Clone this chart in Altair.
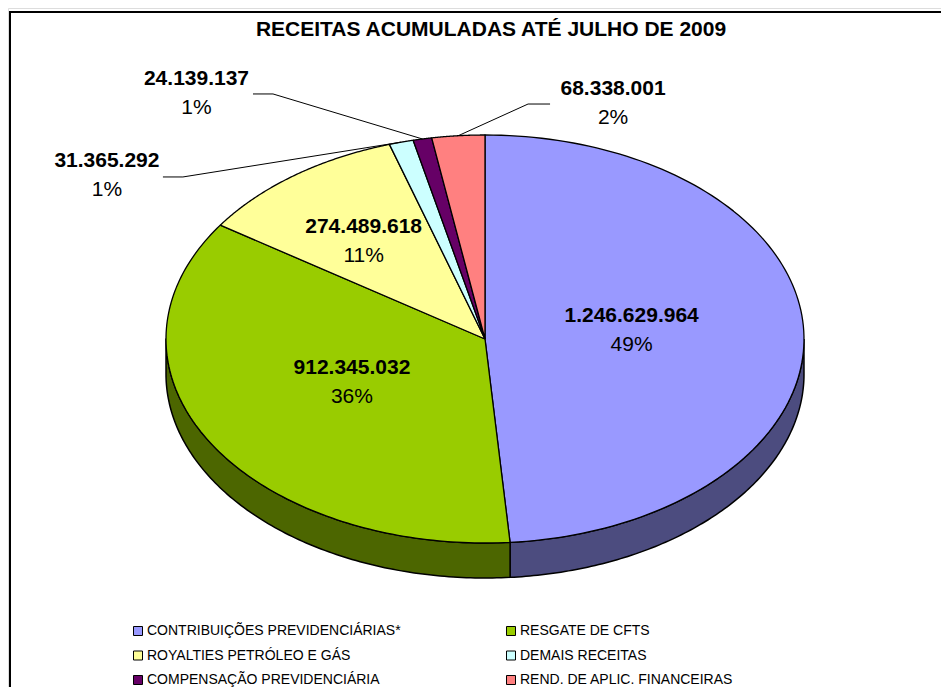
import altair as alt
import pandas as pd

# ---------------- data ----------------
title_text = "RECEITAS ACUMULADAS ATÉ JULHO DE 2009"
categories = [
    "CONTRIBUIÇÕES PREVIDENCIÁRIAS*",
    "RESGATE DE CFTS",
    "ROYALTIES PETRÓLEO E GÁS",
    "DEMAIS RECEITAS",
    "COMPENSAÇÃO PREVIDENCIÁRIA",
    "REND. DE APLIC. FINANCEIRAS",
]
values = [1246629964, 912345032, 274489618, 31365292, 24139137, 68338001]
percent_labels = ["49%", "36%", "11%", "1%", "1%", "2%"]

# ---------------- styles / layout ----------------
colors = ["#9999FF", "#99CC00", "#FFFF99", "#CCFFFF", "#660066", "#FF8080"]


def darker(h, f=0.5):
    h = h.lstrip("#")
    r, g, b = (int(h[i:i + 2], 16) for i in (0, 2, 4))
    return "#%02X%02X%02X" % (int(r * f), int(g * f), int(b * f))


side_colors = [darker(c) for c in colors]

# legend is filled column by column: reorder so that it reads row by row
legend_order = [0, 2, 4, 1, 3, 5]
leg_domain = [categories[i] for i in legend_order]
leg_colors = [colors[i] for i in legend_order]

FONT = "Liberation Sans"
W, H = 933, 679          # plot area (whole frame)
CX, CY = 477, 331        # pie centre in view pixels
RX, RY = 319, 204        # ellipse radii in pixels
DEPTH = 35               # pie thickness in pixels
N = 120                  # points per slice outline
LABEL_SIZE = 21

xdom = [-CX / RX, (W - CX) / RX]
ydom = [(CY - H) / RY, CY / RY]
xs = alt.Scale(domain=xdom, range=[0, W], zero=False, nice=False)
ys = alt.Scale(domain=ydom, zero=False, nice=False)
cs = alt.Scale(domain=leg_domain, range=leg_colors)
fs = alt.Scale(domain=categories, range=side_colors)

# label placement (layout only)
inside_r = [0.46, 0.465, 0.62, 0, 0, 0]
in_dx = [0, -5, -3, 0, 0, 0]
in_dy = [-5, -4, 4, 0, 0, 0]
# outside labels: pixel offsets from the rim point at the slice's mid angle
elbow_dx = [0, 0, 0, -218.3, -149.4, 69.8]
elbow_dy = [0, 0, 0, 34.8, -45.0, -31.7]
end_dx = [0, 0, 0, -238.3, -169.4, 91.8]
lab_dx = [0, 0, 0, -294.3, -225.9, 154.8]
lab_dy = [0, 0, 0, 33.3, -45.5, -32.7]


def arr(a):
    return "[" + ",".join(str(v) for v in a) + "]"


df = pd.DataFrame({
    "idx": list(range(len(categories))),
    "cat": categories,
    "value": values,
    "vlabel": [f"{v:,}".replace(",", ".") for v in values],
    "plabel": percent_labels,
})

base = (
    alt.Chart(df)
    .transform_joinaggregate(total="sum(value)")
    .transform_window(cum="sum(value)", sort=[alt.SortField("idx")], frame=[None, 0])
    .transform_calculate(
        a0="2*PI*(datum.cum - datum.value)/datum.total",
        a1="2*PI*datum.cum/datum.total",
        am="PI*(2*datum.cum - datum.value)/datum.total",
    )
)

X = lambda f: alt.X(f, type="quantitative", scale=xs, axis=None)
Y = lambda f: alt.Y(f, type="quantitative", scale=ys, axis=None)

# side (thickness) of the pie, visible front half only
side = (
    base.transform_calculate(b0="max(datum.a0, PI/2)", b1="min(datum.a1, 3*PI/2)")
    .transform_filter("datum.b1 > datum.b0")
    .transform_calculate(k=f"sequence(0, {2 * N + 3})")
    .transform_flatten(["k"])
    .transform_calculate(
        t=f"datum.k <= {N} ? datum.k/{N} : (datum.k <= {2 * N + 1} ? ({2 * N + 1} - datum.k)/{N} : 0)",
        lower=f"(datum.k > {N} && datum.k <= {2 * N + 1}) ? 1 : 0",
    )
    .transform_calculate(
        ang="datum.b0 + (datum.b1 - datum.b0) * datum.t",
    )
    .transform_calculate(
        px="sin(datum.ang)",
        py=f"cos(datum.ang) - datum.lower * {DEPTH / RY}",
    )
    .mark_line(filled=True, stroke="black", strokeWidth=1.5, strokeJoin="round")
    .encode(
        x=X("px"), y=Y("py"),
        fill=alt.Fill("cat:N", scale=fs, legend=None),
        detail="cat:N",
        order=alt.Order("k:Q"),
    )
)

# top faces
top = (
    base.transform_calculate(k=f"sequence(0, {N + 3})")
    .transform_flatten(["k"])
    .transform_calculate(
        ang=f"datum.a0 + (datum.a1 - datum.a0) * clamp(datum.k - 1, 0, {N}) / {N}",
        rim=f"(datum.k > 0 && datum.k < {N + 2}) ? 1 : 0",
    )
    .transform_calculate(
        px="datum.rim * sin(datum.ang)",
        py="datum.rim * cos(datum.ang)",
    )
    .mark_line(filled=True, stroke="black", strokeWidth=1.3, strokeJoin="round")
    .encode(
        x=X("px"), y=Y("py"),
        color=alt.Color("cat:N", scale=cs, legend=None),
        detail="cat:N",
        order=alt.Order("k:Q"),
    )
)

# inside labels
inside = base.transform_filter("datum.idx < 3").transform_calculate(
    r=f"{arr(inside_r)}[datum.idx]"
).transform_calculate(
    lx=f"datum.r * sin(datum.am) + {arr(in_dx)}[datum.idx]/{RX}",
    ly=f"datum.r * cos(datum.am) - {arr(in_dy)}[datum.idx]/{RY}",
)
in_val = inside.mark_text(font=FONT, fontSize=LABEL_SIZE, fontWeight="bold", color="black", dy=-14.5).encode(
    x=X("lx"), y=Y("ly"), text="vlabel:N")
in_pct = inside.mark_text(font=FONT, fontSize=LABEL_SIZE, color="black", dy=14.5).encode(
    x=X("lx"), y=Y("ly"), text="plabel:N")

# outside labels with leader lines
outside = base.transform_filter("datum.idx >= 3").transform_calculate(
    ax="sin(datum.am)", ay="cos(datum.am)"
).transform_calculate(
    ex=f"datum.ax + {arr(elbow_dx)}[datum.idx]/{RX}",
    ey=f"datum.ay - {arr(elbow_dy)}[datum.idx]/{RY}",
    fx=f"datum.ax + {arr(end_dx)}[datum.idx]/{RX}",
    lx=f"datum.ax + {arr(lab_dx)}[datum.idx]/{RX}",
    ly=f"datum.ay - {arr(lab_dy)}[datum.idx]/{RY}",
)
lead1 = outside.mark_rule(color="black", strokeWidth=1).encode(
    x=X("ax"), y=Y("ay"), x2="ex:Q", y2="ey:Q")
lead2 = outside.mark_rule(color="black", strokeWidth=1).encode(
    x=X("ex"), y=Y("ey"), x2="fx:Q", y2="ey:Q")
out_val = outside.mark_text(font=FONT, fontSize=LABEL_SIZE, fontWeight="bold", color="black", dy=-14.5).encode(
    x=X("lx"), y=Y("ly"), text="vlabel:N")
out_pct = outside.mark_text(font=FONT, fontSize=LABEL_SIZE, color="black", dy=14.5).encode(
    x=X("lx"), y=Y("ly"), text="plabel:N")

# legend carrier (invisible marks)
legend_layer = alt.Chart(df).mark_square(size=0, stroke="black", strokeWidth=1).encode(
    x=alt.value(0), y=alt.value(0),
    color=alt.Color(
        "cat:N", scale=cs,
        legend=alt.Legend(
            title=None, orient="none", legendX=123, legendY=616, columns=2,
            symbolType="square", symbolSize=81, symbolStrokeColor="black",
            symbolStrokeWidth=1, symbolOpacity=1, labelFont=FONT, labelFontSize=14,
            labelColor="black", labelLimit=500, columnPadding=103, rowPadding=10.5,
            labelOffset=2, padding=0,
        ),
    ),
)

# title and frame
title_df = pd.DataFrame({"t": [title_text]})
title = alt.Chart(title_df).mark_text(
    font=FONT, fontSize=21, fontWeight="bold", color="black", baseline="middle"
).encode(text="t:N", x=alt.value(483), y=alt.value(22))

frame_df = pd.DataFrame({"f": [0]})
frame_v = alt.Chart(frame_df).mark_rule(color="black", strokeWidth=2).encode(
    x=alt.value(2), y=alt.value(3), y2=alt.value(H + 5))
frame_h = alt.Chart(frame_df).mark_rule(color="black", strokeWidth=2).encode(
    x=alt.value(1), x2=alt.value(W + 5), y=alt.value(4))

chart = alt.layer(
    legend_layer, side, top, lead1, lead2, in_val, in_pct, out_val, out_pct,
    title, frame_v, frame_h,
).properties(
    width=W, height=H, autosize=alt.AutoSizeParams(type="none"), padding=0,
).configure_view(stroke=None).configure(font=FONT)

chart.save("out.html", embed_options={"renderer": "svg", "actions": False})
